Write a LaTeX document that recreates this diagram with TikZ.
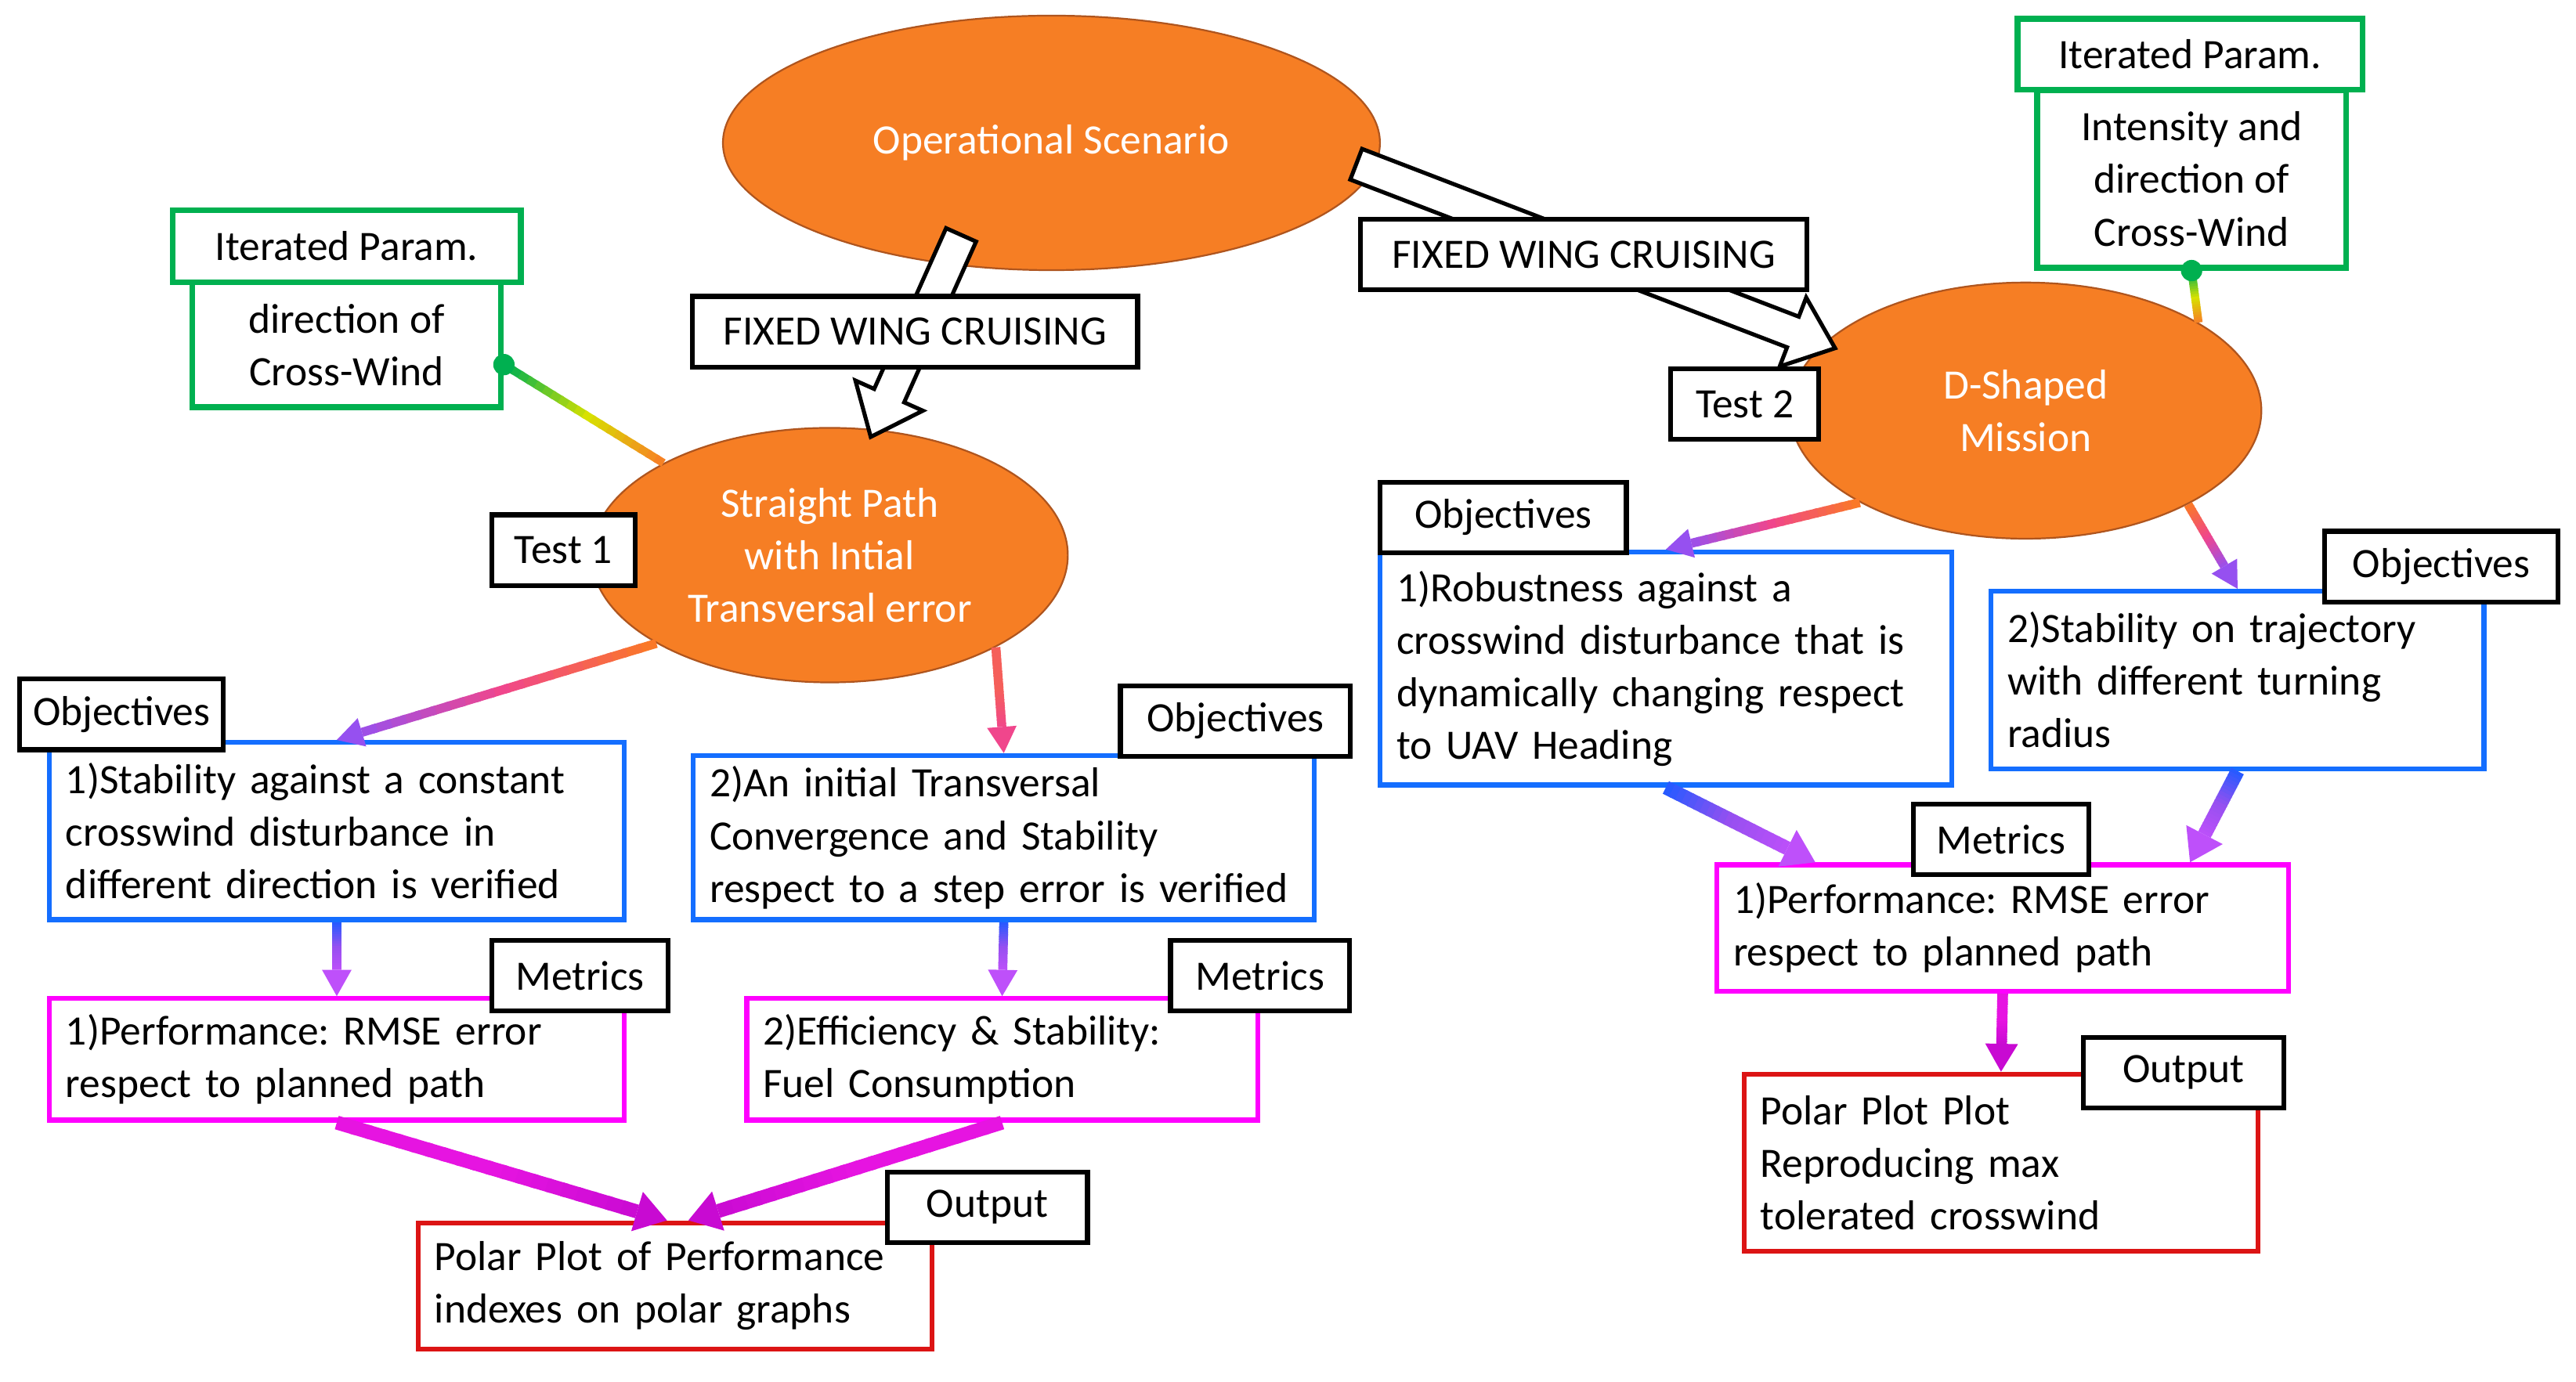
\documentclass[tikz,border=0pt]{standalone}
\usepackage{fontspec}
\setmainfont{Carlito}
\usepackage{tikz}
\usetikzlibrary{calc,shapes.geometric}
\frenchspacing

\definecolor{scenorange}{RGB}{246,126,36}
\definecolor{scenedge}{RGB}{175,85,30}
\definecolor{itgreen}{RGB}{0,176,80}
\definecolor{objblue}{RGB}{20,110,255}
\definecolor{metmag}{RGB}{255,0,255}
\definecolor{outred}{RGB}{220,20,20}
\definecolor{arrorange}{RGB}{250,120,40}
\definecolor{arrpink}{RGB}{240,70,140}
\definecolor{arrviolet}{RGB}{150,80,240}
\definecolor{arrblue}{RGB}{40,90,255}
\definecolor{arrpurple}{RGB}{190,80,250}
\definecolor{arrmag}{RGB}{230,20,225}
\definecolor{arrdeep}{RGB}{200,10,210}
\definecolor{glow}{RGB}{215,225,0}

% line in 20 pieces: colour 1 -> colour 2 -> colour 3
\newcommand\gradline[6]{%
  \foreach \k in {0,...,19}{%
    \ifnum\k<10
      \pgfmathtruncatemacro\pc{100-10*\k}\def\ca{#3}\def\cb{#4}%
    \else
      \pgfmathtruncatemacro\pc{200-10*\k}\def\ca{#4}\def\cb{#5}%
    \fi
    \draw[line width=#6, color=\ca!\pc!\cb] ($(#1)!{\k/20}!(#2)$) -- ($(#1)!{min(1,(\k+1.3)/20)}!(#2)$);
  }}
% same, with a head in the last colour
\newcommand\gradarrow[8]{%
  \coordinate (gb) at ($(#2)!#7!(#1)$);
  \gradline{#1}{gb}{#3}{#4}{#5}{#6}
  \fill[#5] (#2) -- ($(gb)!#8!90:(#2)$) -- ($(gb)!#8!-90:(#2)$) -- cycle;}
% hollow block arrow
\newcommand\blockarrow[2]{%
  \coordinate (bh) at ($(#2)!0.55cm!(#1)$);
  \draw[fill=white, line width=1.4pt, line join=miter]
    ($(#1)!0.2cm!90:(#2)$) -- ($(bh)!0.2cm!90:(#2)$) -- ($(bh)!0.45cm!90:(#2)$) -- (#2)
    -- ($(bh)!0.45cm!-90:(#2)$) -- ($(bh)!0.2cm!-90:(#2)$) -- ($(#1)!0.2cm!-90:(#2)$) -- cycle;}

\tikzset{
  oval/.style={ellipse, draw=scenedge, line width=0.6pt, fill=scenorange, text=white, align=center, inner sep=0pt},
  lbl/.style={draw=black, line width=1.7pt, fill=white, minimum height=0.86cm, inner sep=0pt},
  itbox/.style={draw=itgreen, line width=2pt, fill=white, align=center, inner sep=0pt},
  txtbox/.style={line width=1.7pt, fill=white, align=left, inner xsep=0.2cm, inner ysep=0pt},
  objbox/.style={txtbox, draw=objblue},
  metbox/.style={txtbox, draw=metmag},
  outbox/.style={txtbox, draw=outred},
}

\begin{document}
\begin{tikzpicture}[x=0.02cm, y=-0.02cm, font=\fontsize{14.5}{18.2}\selectfont]
%%%%% START %%%%%
\useasboundingbox (0,0) rectangle (1568,841);

\node[oval, minimum width=8cm, minimum height=3.1cm] (scen) at (640,87) {Operational Scenario};
\node[oval, minimum width=5.8cm, minimum height=3.1cm] (t1) at (505,338) {Straight Path\\with Intial\\Transversal error};
\node[oval, minimum width=5.74cm, minimum height=3.12cm] (t2) at (1233,250) {D-Shaped\\Mission};

\coordinate (fwa) at ($(scen.south)+(-55,-22)$);
\coordinate (fwb) at ($(t1.north)+(25,6)$);
\coordinate (fwc) at ($(scen.east)+(-15,13)$);
\coordinate (fwd) at ($(t2.west)+(28,-38)$);
\blockarrow{fwa}{fwb}
\blockarrow{fwc}{fwd}

\node[lbl, minimum width=5.42cm] (fw1) at (557,202) {FIXED WING CRUISING};
\node[lbl, minimum width=5.44cm] (fw2) at (964,155) {FIXED WING CRUISING};
\node[lbl, minimum width=1.74cm] (lt1) at (343,335) {Test 1};
\node[lbl, minimum width=1.8cm] (lt2) at (1062,246) {Test 2};

% iterated parameters
\node[itbox, minimum width=3.76cm, minimum height=1.52cm] (ipLb) at (211,210) {direction of\\Cross-Wind};
\node[itbox, minimum width=4.24cm, minimum height=0.88cm] (ipL) at (211,150) {Iterated Param.};
\node[itbox, minimum width=3.76cm, minimum height=2.16cm] (ipRb) at (1334,109) {Intensity and\\direction of\\Cross-Wind};
\node[itbox, minimum width=4.2cm, minimum height=0.86cm] (ipR) at (1333,33) {Iterated Param.};

\coordinate (dotL) at ($(ipLb.east)+(0,12)$);
\gradline{dotL}{t1.151}{itgreen}{glow}{arrorange}{0.1cm}
\fill[itgreen] (dotL) circle (0.13cm);
\gradline{ipRb.south}{t2.27}{itgreen}{glow}{arrorange}{0.1cm}
\fill[itgreen] (ipRb.south) circle (0.13cm);

% test 1
\node[objbox, text width=6.6cm, minimum height=2.16cm] (o1) at (205,506) {1)Stability against a constant\\crosswind disturbance in\\different direction is verified};
\node[objbox, text width=7.16cm, minimum height=2cm] (o2) at (611,510) {2)An initial Transversal\\Convergence and Stability\\respect to a step error is verified};
\node[metbox, text width=6.6cm, minimum height=1.48cm] (m1) at (205,645) {1)Performance: RMSE error\\respect to planned path};
\node[metbox, text width=5.82cm, minimum height=1.48cm] (m2) at (610,645) {2)Efficiency \& Stability:\\Fuel Consumption};
\node[outbox, text width=5.86cm, minimum height=1.54cm] (out1) at (411,783) {Polar Plot of Performance\\indexes on polar graphs};

\node[lbl, minimum width=2.48cm] (ol1) at (74,435) {Objectives};
\node[lbl, minimum width=2.8cm] (ol2) at (752,439) {Objectives};
\node[lbl, minimum width=2.14cm] (ml1) at (353,594) {Metrics};
\node[lbl, minimum width=2.18cm] (ml2) at (767,594) {Metrics};
\node[lbl, minimum width=2.44cm] (outl1) at (601,735) {Output};

% test 2
\node[objbox, text width=6.56cm, minimum height=2.84cm] (o3) at (1014,407) {1)Robustness against a\\crosswind disturbance that is\\dynamically changing respect\\to UAV Heading};
\node[objbox, text width=5.6cm, minimum height=2.16cm] (o4) at (1362,414) {2)Stability on trajectory\\with different turning\\radius};
\node[metbox, text width=6.56cm, minimum height=1.54cm] (m3) at (1219,565) {1)Performance: RMSE error\\respect to planned path};
\node[outbox, text width=5.86cm, minimum height=2.16cm] (out2) at (1218,708) {Polar Plot Plot\\Reproducing max\\tolerated crosswind};

\node[lbl, minimum width=3cm] (ol3) at (915,315) {Objectives};
\node[lbl, minimum width=2.84cm] (ol4) at (1486,345) {Objectives};
\node[lbl, minimum width=2.14cm] (ml3) at (1218,511) {Metrics};
\node[lbl, minimum width=2.44cm] (outl2) at (1329,653) {Output};

% connectors
\coordinate (out1a) at ($(out1.north)+(-5,0)$);
\coordinate (out1b) at ($(out1.north)+(8,0)$);
\coordinate (m3a) at ($(m3.north)!0.65!(m3.north west)$);
\coordinate (m3b) at ($(m3.north)!0.65!(m3.north east)$);

\gradarrow{t1.207}{o1.north}{arrorange}{arrpink}{arrviolet}{0.11cm}{0.32cm}{0.18cm}
\gradarrow{t1.331}{o2.north}{arrorange}{arrorange!50!arrpink}{arrpink}{0.11cm}{0.32cm}{0.18cm}
\gradarrow{o1.south}{m1.north}{arrblue}{arrviolet}{arrpurple}{0.11cm}{0.32cm}{0.18cm}
\gradarrow{o2.south}{m2.north}{arrblue}{arrviolet}{arrpurple}{0.11cm}{0.32cm}{0.18cm}
\gradarrow{m1.south}{out1a}{arrmag}{arrmag}{arrdeep}{0.17cm}{0.38cm}{0.25cm}
\gradarrow{m2.south}{out1b}{arrmag}{arrmag}{arrdeep}{0.17cm}{0.38cm}{0.25cm}

\gradarrow{t2.209}{o3.north}{arrorange}{arrpink}{arrviolet}{0.11cm}{0.32cm}{0.18cm}
\gradarrow{t2.330}{o4.north}{arrorange}{arrpink}{arrviolet}{0.11cm}{0.32cm}{0.18cm}
\gradarrow{o3.south}{m3a}{arrblue}{arrviolet}{arrpurple}{0.17cm}{0.38cm}{0.25cm}
\gradarrow{o4.south}{m3b}{arrblue}{arrviolet}{arrpurple}{0.17cm}{0.38cm}{0.25cm}
\gradarrow{m3.south}{out2.north}{arrmag}{arrmag}{arrdeep}{0.13cm}{0.34cm}{0.2cm}

%%%%% END %%%%%
\end{tikzpicture}
\end{document}
